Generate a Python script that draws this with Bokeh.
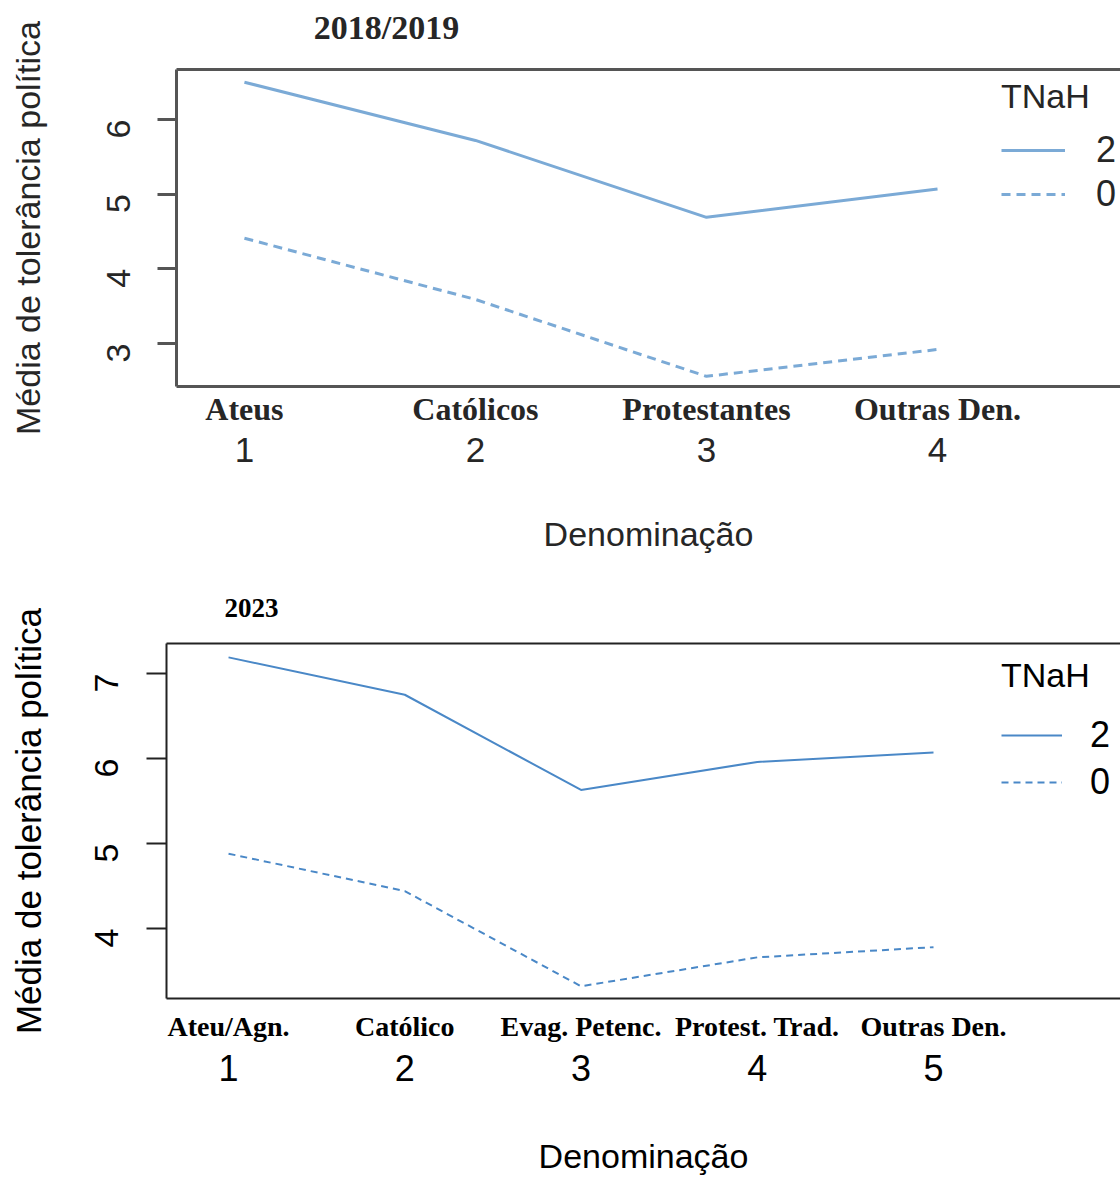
import math
import json
from bokeh.plotting import figure
from bokeh.models import (Range1d, LinearAxis, FixedTicker, Legend, LegendItem,
                          CustomJSTickFormatter)
from bokeh.layouts import column, row
from bokeh.embed import file_html
from bokeh.resources import INLINE

# ---------------- data ----------------
codes_a = [1, 2, 3, 4]
categories_a = ["Ateus", "Católicos", "Protestantes", "Outras Den."]
tnah2_a = [6.50, 5.72, 4.69, 5.07]
tnah0_a = [4.41, 3.59, 2.56, 2.92]
yticks_a = [3, 4, 5, 6]

codes_b = [1, 2, 3, 4, 5]
categories_b = ["Ateu/Agn.", "Católico", "Evag. Petenc.", "Protest. Trad.", "Outras Den."]
tnah2_b = [7.19, 6.75, 5.63, 5.96, 6.07]
tnah0_b = [4.88, 4.44, 3.32, 3.66, 3.78]
yticks_b = [4, 5, 6, 7]

legend_title = "TNaH"
legend_labels = ["2", "0"]
ylabel = "Média de tolerância política"
xlabel = "Denominação"

SANS = "Liberation Sans"
SERIF = "Liberation Serif"


def panel(title, codes, cats, s2, s0, yticks, xr, yr, W, H, mb, st):
    p = figure(width=W, height=H, x_range=Range1d(*xr), y_range=Range1d(*yr),
               output_backend="svg", toolbar_location=None,
               x_axis_location=None, y_axis_location=None,
               min_border_left=mb["left"], min_border_right=0,
               min_border_top=mb["top"], min_border_bottom=mb["bottom"],
               outline_line_color=None, background_fill_color="white",
               border_fill_color="white")
    p.xgrid.visible = False
    p.ygrid.visible = False

    tc = st["text_color"]
    fc = st["frame_color"]
    fw = st["frame_width"]

    # top axis: draws the top border and carries the panel title
    tax = LinearAxis(ticker=FixedTicker(ticks=[st["title_x"]]),
                     formatter=CustomJSTickFormatter(code="return %s;" % json.dumps(title)))
    tax.axis_line_color = fc
    tax.axis_line_width = fw
    tax.major_tick_line_color = None
    tax.major_tick_out = 0
    tax.major_tick_in = 0
    tax.minor_tick_line_color = None
    tax.major_label_standoff = st["title_standoff"]
    tax.major_label_text_font = SERIF
    tax.major_label_text_font_style = "bold"
    tax.major_label_text_font_size = st["title_size"]
    tax.major_label_text_color = tc
    p.add_layout(tax, "above")

    # left axis
    yax = LinearAxis(ticker=FixedTicker(ticks=yticks), axis_label=ylabel)
    yax.axis_line_color = fc
    yax.axis_line_width = fw
    yax.major_tick_line_color = fc
    yax.major_tick_line_width = fw
    yax.major_tick_out = st["ytick_out"]
    yax.major_tick_in = 0
    yax.minor_tick_line_color = None
    yax.major_label_orientation = math.pi / 2
    yax.major_label_standoff = st["ylab_standoff"]
    yax.major_label_text_font = SANS
    yax.major_label_text_font_size = st["ytick_size"]
    yax.major_label_text_color = tc
    yax.axis_label_standoff = st["yaxis_label_standoff"]
    yax.axis_label_text_font = SANS
    yax.axis_label_text_font_style = "normal"
    yax.axis_label_text_font_size = st["ylabel_size"]
    yax.axis_label_text_color = tc
    p.add_layout(yax, "left")

    # category names axis (closest to frame, carries bottom border)
    nax = LinearAxis(ticker=FixedTicker(ticks=codes),
                     major_label_overrides={c: n for c, n in zip(codes, cats)})
    nax.axis_line_color = fc
    nax.axis_line_width = fw
    nax.major_tick_line_color = None
    nax.major_tick_out = 0
    nax.major_tick_in = 0
    nax.minor_tick_line_color = None
    nax.major_label_standoff = st["names_standoff"]
    nax.major_label_text_font = SERIF
    nax.major_label_text_font_style = "bold"
    nax.major_label_text_font_size = st["names_size"]
    nax.major_label_text_color = tc
    p.add_layout(nax, "below")

    # numeric codes axis + axis title
    cax = LinearAxis(ticker=FixedTicker(ticks=codes), axis_label=xlabel)
    cax.axis_line_color = None
    cax.major_tick_line_color = None
    cax.major_tick_out = 0
    cax.major_tick_in = 0
    cax.minor_tick_line_color = None
    cax.major_label_standoff = st["codes_standoff"]
    cax.major_label_text_font = SANS
    cax.major_label_text_font_size = st["codes_size"]
    cax.major_label_text_color = tc
    cax.axis_label_standoff = st["xaxis_label_standoff"]
    cax.axis_label_text_font = SANS
    cax.axis_label_text_font_style = "normal"
    cax.axis_label_text_font_size = st["xlabel_size"]
    cax.axis_label_text_color = tc
    p.add_layout(cax, "below")

    r2 = p.line(codes, s2, line_color=st["line_color"], line_width=st["line_width"])
    r0 = p.line(codes, s0, line_color=st["line_color"], line_width=st["line_width"],
                line_dash=st["dash"])

    leg = Legend(items=[LegendItem(label=legend_labels[0], renderers=[r2]),
                        LegendItem(label=legend_labels[1], renderers=[r0])],
                 title=legend_title, location=st["leg_loc"])
    leg.margin = 0
    leg.padding = 0
    leg.border_line_color = None
    leg.background_fill_alpha = 0
    leg.spacing = st["leg_spacing"]
    leg.glyph_width = st["leg_glyph_w"]
    leg.glyph_height = st["leg_item_h"]
    leg.label_height = st["leg_item_h"]
    leg.label_standoff = st["leg_label_standoff"]
    leg.label_text_font = SANS
    leg.label_text_font_size = st["leg_label_size"]
    leg.label_text_color = tc
    leg.title_text_font = SANS
    leg.title_text_font_style = "normal"
    leg.title_text_font_size = st["leg_title_size"]
    leg.title_text_color = tc
    leg.title_standoff = st["leg_title_standoff"]
    p.add_layout(leg)
    return p


st_a = dict(text_color="#262626", frame_color="#555555", frame_width=3,
            title_x=1.615, title_standoff=24, title_size="34px",
            ytick_out=19, ylab_standoff=39, ytick_size="34px",
            yaxis_label_standoff=46, ylabel_size="34px",
            names_standoff=4, names_size="32px",
            codes_standoff=8, codes_size="35px",
            xaxis_label_standoff=50, xlabel_size="34px",
            line_color="#7BAAD6", line_width=3, dash="9 6",
            leg_loc=(825, 171), leg_spacing=2, leg_glyph_w=64, leg_item_h=40,
            leg_label_standoff=31, leg_label_size="36px", leg_title_size="34px",
            leg_title_standoff=13)

st_b = dict(text_color="#000000", frame_color="#222222", frame_width=2,
            title_x=1.13, title_standoff=27, title_size="27px",
            ytick_out=20, ylab_standoff=40, ytick_size="34px",
            yaxis_label_standoff=33, ylabel_size="35px",
            names_standoff=12, names_size="28px",
            codes_standoff=10, codes_size="36px",
            xaxis_label_standoff=53, xlabel_size="34px",
            line_color="#4A88C7", line_width=2, dash="7 5",
            leg_loc=(835, 195), leg_spacing=5, leg_glyph_w=61, leg_item_h=40,
            leg_label_standoff=28, leg_label_size="36px", leg_title_size="34px",
            leg_title_standoff=19)

p1 = panel("2018/2019", codes_a, categories_a, tnah2_a, tnah0_a, yticks_a,
           (0.706, 4.792), (2.424, 6.67), 1120, 565,
           dict(left=176, top=69, bottom=179), st_a)
p2 = panel("2023", codes_b, categories_b, tnah2_b, tnah0_b, yticks_b,
           (0.648, 6.061), (3.176, 7.353), 1120, 612,
           dict(left=166, top=78, bottom=179), st_b)

layout = column(row(p1), row(p2), spacing=0)
open("out.html", "w").write(file_html(layout, INLINE))
